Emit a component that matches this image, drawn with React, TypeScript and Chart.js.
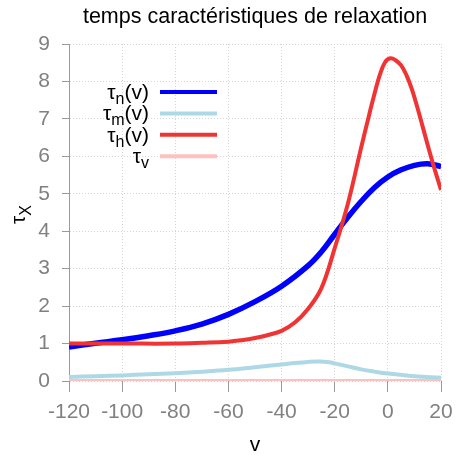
import React, { useEffect, useRef } from "react";
import { Chart, registerables } from "chart.js";

Chart.register(...registerables);

const FONT = '"Liberation Sans", Arial, sans-serif';

const TITLE = "temps caractéristiques de relaxation";
const X_LABEL = "v";
const Y_LABEL_BASE = "τ";
const Y_LABEL_SUB = "X";

const X_MIN = -120;
const X_MAX = 20;
const X_STEP = 20;
const Y_MIN = 0;
const Y_MAX = 9;
const Y_STEP = 1;

// tau_n(v)
const vN = [-120, -110, -100, -90, -80, -70, -60, -50, -40, -30, -25, -20, -15, -10, -5, 0, 5, 10, 15, 20];
const tauN = [0.91, 1.01, 1.1, 1.21, 1.34, 1.52, 1.78, 2.12, 2.53, 3.08, 3.45, 3.92, 4.38, 4.8, 5.17, 5.45, 5.64, 5.76, 5.8, 5.73];

// tau_m(v)
const vM = [-120, -110, -100, -90, -80, -70, -60, -50, -40, -35, -30, -26, -22, -20, -15, -10, -5, 0, 10, 20];
const tauM = [0.11, 0.13, 0.15, 0.18, 0.21, 0.25, 0.3, 0.37, 0.44, 0.48, 0.51, 0.52, 0.5, 0.47, 0.39, 0.31, 0.25, 0.2, 0.13, 0.09];

// tau_h(v)
const vH = [-120, -100, -80, -70, -60, -55, -50, -45, -40, -35, -30, -25, -20, -15, -10, -7, -5, -3, -1, 1, 3, 5, 7, 9, 11, 13, 15, 17, 20];
const tauH = [1.0, 1.0, 1.0, 1.02, 1.05, 1.09, 1.15, 1.23, 1.34, 1.56, 1.93, 2.48, 3.55, 4.75, 6.25, 7.12, 7.68, 8.18, 8.52, 8.62, 8.56, 8.43, 8.17, 7.8, 7.33, 6.82, 6.3, 5.8, 5.1];

// tau_v
const vV = [-120, 20];
const tauV = [0, 0];

const SERIES_SUBS = ["n", "m", "h", "v"];
const SERIES_TAILS = ["(v)", "(v)", "(v)", ""];
const SERIES_COLORS = ["#0000ff", "#add8e6", "#f03434", "#ffc0c0"];
const SERIES_WIDTHS = [5.5, 4, 4, 4];
const SERIES_ORDER = [3, 2, 1, 0];

const toPoints = (xs: number[], ys: number[]) => xs.map((x, i) => ({ x, y: ys[i] }));

const overlayPlugin = {
  id: "overlay",
  afterDraw(chart: any) {
    const ctx: CanvasRenderingContext2D = chart.ctx;
    const { left, right } = chart.chartArea;
    const cx = (left + right) / 2;
    ctx.save();
    ctx.fillStyle = "#000";
    ctx.textBaseline = "alphabetic";

    // title
    ctx.font = `21.5px ${FONT}`;
    ctx.textAlign = "center";
    ctx.fillText(TITLE, cx, 23);

    // x label
    ctx.font = `21px ${FONT}`;
    ctx.fillText(X_LABEL, cx, 451);

    // y label (rotated, with subscript)
    ctx.save();
    ctx.translate(25, 224);
    ctx.rotate(-Math.PI / 2);
    ctx.textAlign = "left";
    ctx.font = `21px ${FONT}`;
    ctx.fillText(Y_LABEL_BASE, 0, 0);
    const wb = ctx.measureText(Y_LABEL_BASE).width;
    ctx.font = `16px ${FONT}`;
    ctx.fillText(Y_LABEL_SUB, wb, 6);
    ctx.restore();

    // legend
    const textRight = 149;
    const lineX1 = 160;
    const lineX2 = 217;
    const row0 = 92;
    const rowH = 21.4;
    const mainFont = `21px ${FONT}`;
    const subFont = `16px ${FONT}`;
    ctx.textAlign = "left";
    SERIES_SUBS.forEach((sub, i) => {
      const y = row0 + i * rowH;
      const tail = SERIES_TAILS[i];
      ctx.font = mainFont;
      const wT = ctx.measureText(Y_LABEL_BASE).width;
      const wTail = ctx.measureText(tail).width;
      ctx.font = subFont;
      const wSub = ctx.measureText(sub).width;
      let x = textRight - (wT + wSub + wTail);
      ctx.fillStyle = "#000";
      ctx.font = mainFont;
      ctx.fillText(Y_LABEL_BASE, x, y + 7);
      x += wT;
      ctx.font = subFont;
      ctx.fillText(sub, x, y + 12);
      x += wSub;
      ctx.font = mainFont;
      ctx.fillText(tail, x, y + 7);

      ctx.strokeStyle = SERIES_COLORS[i];
      ctx.lineWidth = 4;
      ctx.lineCap = "butt";
      ctx.beginPath();
      ctx.moveTo(lineX1, y);
      ctx.lineTo(lineX2, y);
      ctx.stroke();
    });

    ctx.restore();
  },
};

export default function App() {
  const canvasRef = useRef<HTMLCanvasElement | null>(null);

  useEffect(() => {
    const canvas = canvasRef.current;
    if (!canvas) return;
    const seriesX = [vN, vM, vH, vV];
    const seriesY = [tauN, tauM, tauH, tauV];
    const datasets = SERIES_SUBS.map((sub, i) => ({
      label: Y_LABEL_BASE + sub + SERIES_TAILS[i],
      data: toPoints(seriesX[i], seriesY[i]),
      borderColor: SERIES_COLORS[i],
      backgroundColor: SERIES_COLORS[i],
      borderWidth: SERIES_WIDTHS[i],
      pointRadius: 0,
      fill: false,
      tension: 0.4,
      order: SERIES_ORDER[i],
      borderCapStyle: "butt" as const,
    }));

    const chart = new Chart(canvas, {
      type: "line",
      data: { datasets },
      options: {
        animation: false,
        responsive: false,
        maintainAspectRatio: false,
        layout: { padding: { left: 0, top: 44, right: 15, bottom: 0 } },
        plugins: {
          legend: { display: false },
          title: { display: false },
          tooltip: { enabled: false },
        },
        scales: {
          x: {
            type: "linear",
            min: X_MIN,
            max: X_MAX,
            ticks: {
              stepSize: X_STEP,
              color: "#808080",
              font: { family: FONT, size: 21 },
              padding: 8,
              maxRotation: 0,
              autoSkip: false,
            },
            grid: {
              color: "#d4d4d4",
              lineWidth: 1,
              drawTicks: true,
              tickLength: 11,
              tickColor: "#9a9a9a",
              tickWidth: 1,
            },
            border: { display: false, dash: [1, 2] },
            afterFit(scale: any) {
              scale.height = 75;
              scale.paddingLeft = 0;
              scale.paddingRight = 0;
            },
          },
          y: {
            type: "linear",
            min: Y_MIN,
            max: Y_MAX,
            ticks: {
              stepSize: Y_STEP,
              color: "#808080",
              font: { family: FONT, size: 21 },
              padding: 12,
            },
            grid: {
              color: "#d4d4d4",
              lineWidth: 1,
              drawTicks: true,
              tickLength: 7,
              tickColor: "#9a9a9a",
              tickWidth: 1,
            },
            border: { display: true, color: "#9a9a9a", width: 1, dash: [1, 2] },
            afterFit(scale: any) {
              scale.width = 69;
              scale.paddingTop = 0;
              scale.paddingBottom = 0;
            },
          },
        },
      },
      plugins: [overlayPlugin],
    });

    return () => chart.destroy();
  }, []);

  return (
    <div style={{ position: "fixed", left: 0, top: 0, width: 456, height: 456, background: "#fff" }}>
      <canvas ref={canvasRef} width={456} height={456} style={{ display: "block", width: 456, height: 456 }} />
    </div>
  );
}
